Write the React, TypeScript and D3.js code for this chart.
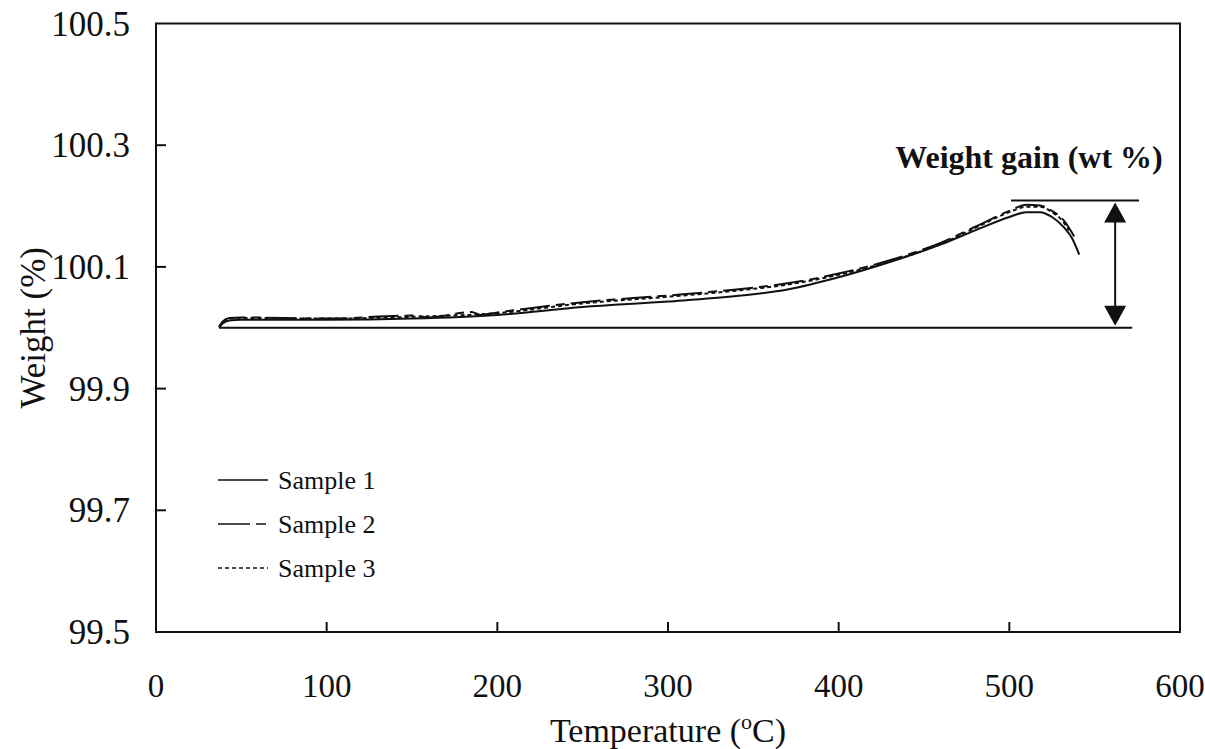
import React from 'react';
import * as d3 from 'd3';

// temperature (°C) and weight (%)
const sample1: [number, number][] = [
  [37, 100.0], [39, 100.007], [43, 100.012], [50, 100.013], [100, 100.013],
  [150, 100.015], [200, 100.021], [250, 100.034], [300, 100.043], [340, 100.052],
  [370, 100.063], [400, 100.083], [430, 100.108], [460, 100.137], [480, 100.16],
  [500, 100.182], [510, 100.19], [518, 100.19], [525, 100.182], [532, 100.165],
  [537, 100.146], [541, 100.12],
];
const sample2: [number, number][] = [
  [37, 100.002], [39, 100.01], [43, 100.016], [50, 100.017], [100, 100.015],
  [150, 100.02], [160, 100.017], [185, 100.026], [190, 100.021], [200, 100.025],
  [250, 100.042], [300, 100.053], [340, 100.063], [370, 100.073], [400, 100.089],
  [430, 100.111], [460, 100.14], [480, 100.166], [500, 100.192], [510, 100.202],
  [518, 100.201], [525, 100.192], [532, 100.176], [538, 100.15],
];
const sample3: [number, number][] = [
  [37, 100.001], [39, 100.009], [43, 100.015], [50, 100.016], [100, 100.015],
  [150, 100.018], [200, 100.024], [250, 100.04], [300, 100.051], [340, 100.061],
  [370, 100.071], [400, 100.087], [430, 100.109], [460, 100.138], [480, 100.164],
  [500, 100.19], [510, 100.199], [518, 100.199], [525, 100.19], [531, 100.176],
  [535, 100.16],
];
const xTicks = [0, 100, 200, 300, 400, 500, 600];
const yTicks = [99.5, 99.7, 99.9, 100.1, 100.3, 100.5];
const legendNames = ['Sample 1', 'Sample 2', 'Sample 3'];
const baseLevel = 100.0;
const peakLevel = 100.209;

const W = 1205;
const H = 749;
const left = 156, right = 1180, top = 23.5, bottom = 632;
const font = '"Liberation Serif", "Times New Roman", serif';

const App = () => {
  const x = d3.scaleLinear().domain([0, 600]).range([left, right]);
  const y = d3.scaleLinear().domain([99.5, 100.5]).range([bottom, top]);
  const line = d3
    .line<[number, number]>()
    .x((d) => x(d[0]))
    .y((d) => y(d[1]))
    .curve(d3.curveMonotoneX);

  const series = [
    { data: sample1, dash: 'none' },
    { data: sample2, dash: '30 6 9 6' },
    { data: sample3, dash: '4 3' },
  ];

  const ax = x(562);
  const yTop = y(peakLevel);
  const yBase = y(baseLevel);

  return (
    <svg width={W} height={H} style={{ position: 'absolute', left: 0, top: 0, background: '#fff' }}>
      <rect x={left} y={top} width={right - left} height={bottom - top} fill="none" stroke="#111" strokeWidth={2} />
      {xTicks.slice(1, -1).map((t) => (
        <line key={t} x1={x(t)} x2={x(t)} y1={bottom} y2={bottom - 10} stroke="#111" strokeWidth={2} />
      ))}
      {yTicks.slice(1, -1).map((t) => (
        <line key={t} x1={left} x2={left + 10} y1={y(t)} y2={y(t)} stroke="#111" strokeWidth={2} />
      ))}
      {xTicks.map((t) => (
        <text key={t} x={x(t)} y={bottom + 65} textAnchor="middle" fontFamily={font} fontSize={33} fill="#111">
          {t}
        </text>
      ))}
      {yTicks.map((t) => (
        <text key={t} x={left - 26} y={y(t) + 12} textAnchor="end" fontFamily={font} fontSize={35} fill="#111">
          {t.toFixed(1)}
        </text>
      ))}
      <text x={(left + right) / 2} y={742} textAnchor="middle" fontFamily={font} fontSize={34} fill="#111">
        Temperature (<tspan fontSize={22} dy={-13}>o</tspan><tspan dy={13}>C)</tspan>
      </text>
      <text
        transform={`translate(45,${(top + bottom) / 2}) rotate(-90)`}
        textAnchor="middle"
        fontFamily={font}
        fontSize={35}
        fill="#111"
      >
        Weight (%)
      </text>

      {/* reference lines and arrow */}
      <line x1={x(37)} x2={x(572)} y1={yBase} y2={yBase} stroke="#111" strokeWidth={2} />
      <line x1={x(501)} x2={x(576)} y1={yTop} y2={yTop} stroke="#111" strokeWidth={2} />
      <line x1={ax} x2={ax} y1={yTop + 15} y2={yBase - 15} stroke="#111" strokeWidth={2} />
      <path d={`M${ax},${yTop + 2}L${ax - 11},${yTop + 22}L${ax + 11},${yTop + 22}Z`} fill="#111" />
      <path d={`M${ax},${yBase - 2}L${ax - 11},${yBase - 22}L${ax + 11},${yBase - 22}Z`} fill="#111" />
      <text x={1029} y={168} textAnchor="middle" fontFamily={font} fontSize={32} fontWeight="bold" fill="#111">
        Weight gain (wt %)
      </text>

      {series.map((s, i) => (
        <path key={i} d={line(s.data) ?? ''} fill="none" stroke="#111" strokeWidth={2} strokeDasharray={s.dash} />
      ))}

      {/* legend */}
      {series.map((s, i) => (
        <g key={i} transform={`translate(218,${480 + i * 44})`}>
          <line x1={0} x2={50} y1={0} y2={0} stroke="#111" strokeWidth={1.5} strokeDasharray={i === 1 ? '32 6 10 6' : s.dash} />
          <text x={60} y={9} fontFamily={font} fontSize={26} fill="#111">
            {legendNames[i]}
          </text>
        </g>
      ))}
    </svg>
  );
};

export default App;
